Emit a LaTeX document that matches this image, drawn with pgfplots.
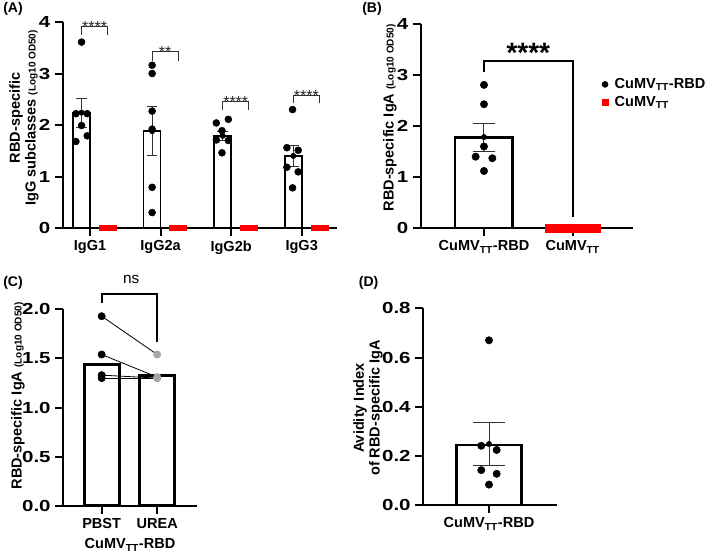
\documentclass[border=0pt]{standalone}
\usepackage{pgfplots}
\pgfplotsset{compat=1.18}
\usepackage{fontspec}
\setmainfont{Liberation Sans}
\newfontfamily\tickfont[FakeStretch=1.28]{Liberation Sans}

\pgfplotsset{
  gp/.style={
    scale only axis, anchor=south west, clip=false,
    axis x line*=bottom, axis y line*=left,
    axis line style={-, line width=1.5pt, black},
    tick align=outside, major tick length=6pt,
    tick style={line width=1.5pt, black},
    minor tick num=0,
    /pgf/number format/assume math mode=true,
    yticklabel style={font=\tickfont\bfseries\fontsize{12}{13}\selectfont},
    xticklabel style={font=\bfseries\fontsize{10.9}{12}\selectfont},
  },
  dots/.style={only marks, mark=*, mark size=2.6pt, mark options={draw=black, fill=black}, forget plot},
  redsq/.style={only marks, mark=square*, mark size=2pt, mark options={draw=red, fill=red}, forget plot},
  errb/.style={only marks, mark=none, forget plot,
    error bars/.cd, y dir=both, y explicit,
    error bar style={line width=0.75pt, black!80},
    error mark options={rotate=90, black!80, line width=0.75pt, mark size=#1}},
}
\newcommand{\TT}{\textsubscript{TT}}

\begin{document}
\begin{tikzpicture}
\useasboundingbox (0,0) rectangle (531.75pt,-415.5pt);

% ---------------- Panel A ----------------
\begin{axis}[gp, at={(47.25pt,-171pt)}, width=205.5pt, height=154.5pt,
  xmin=0.617, xmax=4.5, ymin=0, ymax=4,
  xtick={1,2,3,4}, xticklabels={IgG1,IgG2a,IgG2b,IgG3}, ytick={0,1,2,3,4}]
\addplot[ybar, bar shift=0pt, bar width=0.24, draw=black, fill=white, line width=1.25pt, forget plot]
  coordinates {(0.88,2.24) (1.88,1.88) (2.88,1.79) (3.88,1.40)};
\addplot[errb=4pt] coordinates {(0.88,2.24) +- (0,0.28) (1.88,1.88) +- (0,0.47) (2.88,1.79) +- (0,0.09) (3.88,1.40) +- (0,0.21)};
\addplot[dots, mark size=2.6pt] coordinates {
  (0.88,3.61) (0.80,2.22) (0.96,2.22) (0.88,1.99) (0.80,1.68) (0.96,1.79)
  (1.88,3.16) (1.88,3.00) (1.88,2.27) (1.88,1.92) (1.88,0.79) (1.88,0.30)
  (2.79,2.04) (2.96,2.11) (2.87,1.89) (2.79,1.71) (2.96,1.70) (2.87,1.46)
  (3.87,2.30) (3.79,1.56) (3.95,1.51) (3.79,1.18) (3.95,1.09) (3.87,0.78)};
\addplot[redsq] coordinates {
  (1.167,0) (1.20,0) (1.233,0) (1.267,0) (1.30,0) (1.333,0)
  (2.167,0) (2.20,0) (2.233,0) (2.267,0) (2.30,0) (2.333,0)
  (3.167,0) (3.20,0) (3.233,0) (3.267,0) (3.30,0) (3.333,0)
  (4.167,0) (4.20,0) (4.233,0) (4.267,0) (4.30,0) (4.333,0)};
\draw[line width=0.75pt, black!80] (axis cs:0.88,3.75) |- (axis cs:1.25,3.91) -- (axis cs:1.25,3.75);
\draw[line width=0.75pt, black!80] (axis cs:1.88,3.24) |- (axis cs:2.25,3.42) -- (axis cs:2.25,3.24);
\draw[line width=0.75pt, black!80] (axis cs:2.88,2.29) |- (axis cs:3.25,2.45) -- (axis cs:3.25,2.29);
\draw[line width=0.75pt, black!80] (axis cs:3.88,2.42) |- (axis cs:4.25,2.57) -- (axis cs:4.25,2.42);
\begin{scope}[every node/.style={anchor=base, inner sep=0pt, yshift=-4.4pt, text=black!85, font=\fontsize{12}{12}\selectfont}]
\node at (axis cs:1.065,3.91) {****};
\node at (axis cs:2.065,3.42) {**};
\node at (axis cs:3.065,2.45) {****};
\node at (axis cs:4.065,2.57) {****};
\end{scope}
\end{axis}

% ---------------- Panel B ----------------
\begin{axis}[gp, at={(315.75pt,-171pt)}, width=159pt, height=152.8pt,
  xmin=-0.71, xmax=1.68, ymin=0, ymax=4,
  xtick={0,1}, xticklabels={CuMV\TT-RBD, CuMV\TT}, ytick={0,1,2,3,4},
  legend style={at={(rel axis cs:0.85,0.746)}, anchor=north west, draw=none, fill=none,
    font=\bfseries\fontsize{10.9}{12}\selectfont, inner sep=0pt, row sep=1.5pt,
    nodes={inner sep=1.5pt}},
  legend cell align=left,
  legend image code/.code={\draw[#1] plot coordinates {(0pt,0pt)}; \path (-2.5pt,0pt) (5.5pt,0pt);}]
\addplot[ybar, bar shift=0pt, bar width=0.65, draw=black, fill=white, line width=2pt, forget plot]
  coordinates {(0,1.78)};
\addplot[errb=8.6pt] coordinates {(0,1.785) +- (0,0.275)};
\addplot[dots, mark size=2.75pt] coordinates {(0,2.81) (0,2.43) (0,1.60) (-0.094,1.40) (0.094,1.37) (0,1.12)};
\addplot[redsq, mark size=3.1pt] coordinates {(0.7375,0) (0.8425,0) (0.9475,0) (1.0525,0) (1.1575,0) (1.2625,0)};
\draw[line width=1.5pt, black] (axis cs:0,3.07) |- (axis cs:1,3.28) -- (axis cs:1,0.22);
\node[anchor=base, inner sep=0pt, font=\bfseries\fontsize{21}{21}\selectfont] at (axis cs:0.5,3.24) {****};
\addlegendimage{only marks, mark=*, mark size=2.25pt, mark options={draw=black, fill=black}}
\addlegendentry{CuMV\TT-RBD}
\addlegendimage{only marks, mark=square*, mark size=2.4pt, mark options={draw=red, fill=red}}
\addlegendentry{CuMV\TT}
\end{axis}

% ---------------- Panel C ----------------
\begin{axis}[gp, at={(47.5pt,-379.3pt)}, width=100pt, height=147.3pt,
  xmin=-0.69, xmax=1.71, ymin=0, ymax=2,
  xtick={0,1}, xticklabels={PBST, UREA}, ytick={0,0.5,1,1.5,2},
  /pgf/number format/fixed, /pgf/number format/fixed zerofill, /pgf/number format/precision=1]
\addplot[ybar, bar shift=0pt, bar width=0.63, draw=black, fill=white, line width=2.2pt, forget plot]
  coordinates {(0,1.44) (1,1.33)};
\addplot[black, line width=0.6pt, forget plot] coordinates {(0,1.93) (1,1.54)};
\addplot[black, line width=0.6pt, forget plot] coordinates {(0,1.54) (1,1.31)};
\addplot[black, line width=0.6pt, forget plot] coordinates {(0,1.33) (1,1.30)};
\addplot[black, line width=0.6pt, forget plot] coordinates {(0,1.30) (1,1.30)};
\addplot[dots, mark size=2.75pt] coordinates {(0,1.93) (0,1.54) (0,1.33) (0,1.30)};
\addplot[only marks, mark=*, mark size=2.75pt, mark options={draw=black!35, fill=black!35}, forget plot]
  coordinates {(1,1.54) (1,1.31) (1,1.30) (1,1.30)};
\draw[line width=1.5pt, black] (axis cs:0,2.06) |- (axis cs:1,2.16) -- (axis cs:1,1.67);
\node[anchor=base, inner sep=0pt, font=\fontsize{11.5}{12}\selectfont] at (axis cs:0.53,2.26) {ns};
\end{axis}

% ---------------- Panel D ----------------
\begin{axis}[gp, at={(317.5pt,-378.75pt)}, width=100pt, height=147.5pt,
  xmin=-0.66, xmax=0.68, ymin=0, ymax=0.8,
  xtick={0}, xticklabels={CuMV\TT-RBD}, ytick={0,0.2,0.4,0.6,0.8},
  /pgf/number format/fixed, /pgf/number format/fixed zerofill, /pgf/number format/precision=1]
\addplot[ybar, bar shift=0pt, bar width=0.65, draw=black, fill=white, line width=2pt, forget plot]
  coordinates {(0,0.244)};
\addplot[errb=12pt] coordinates {(0,0.248) +- (0,0.087)};
\addplot[dots, mark size=2.75pt] coordinates {(0,0.670) (-0.078,0.241) (0.077,0.224) (-0.078,0.142) (0.077,0.127) (0,0.083)};
\end{axis}

% ---------------- labels ----------------
\begin{scope}[every node/.style={font=\bfseries\fontsize{10.9}{11.8}\selectfont, inner sep=0pt}]
\node[rotate=90, align=center] at (18pt,-88.5pt) {RBD-specific\\IgG subclasses {\fontsize{7.5}{8}\selectfont (Log10 OD50)}};
\node[rotate=90] at (292.5pt,-88.5pt) {RBD-specific IgA {\fontsize{7.5}{8}\selectfont (Log10 OD50)}};
\node[rotate=90] at (13.5pt,-297pt) {RBD-specific IgA {\fontsize{7.5}{8}\selectfont (Log10 OD50)}};
\node[rotate=90, align=center] at (276pt,-306pt) {Avidity Index\\of RBD-specific IgA};
\node at (97.5pt,-408.75pt) {CuMV\TT-RBD};
\node[anchor=base west, font=\bfseries\fontsize{10.5}{11}\selectfont] at (2.25pt,-9pt) {(A)};
\node[anchor=base west, font=\bfseries\fontsize{10.5}{11}\selectfont] at (271.5pt,-9pt) {(B)};
\node[anchor=base west, font=\bfseries\fontsize{10.5}{11}\selectfont] at (2.25pt,-215pt) {(C)};
\node[anchor=base west, font=\bfseries\fontsize{10.5}{11}\selectfont] at (269pt,-215pt) {(D)};
\end{scope}
\end{tikzpicture}
\end{document}
